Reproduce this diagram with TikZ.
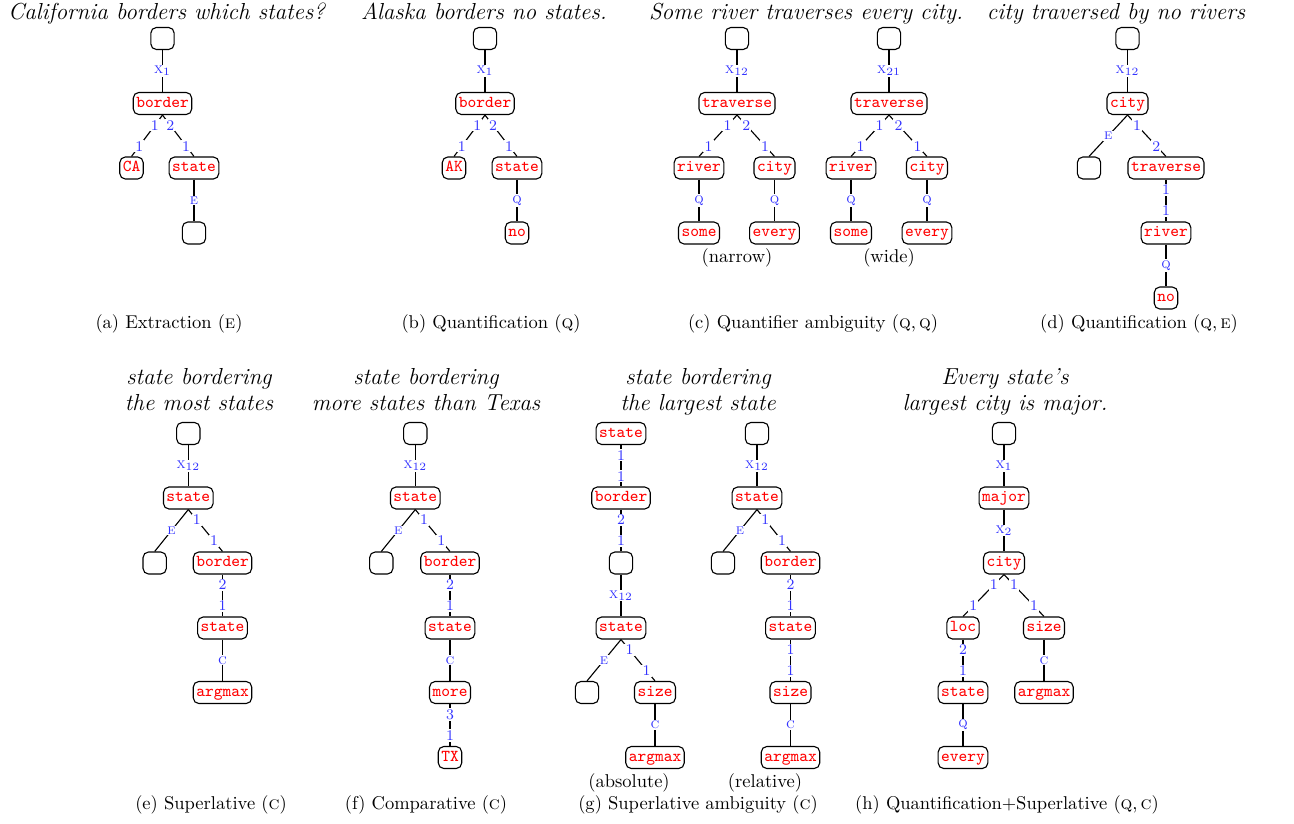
\documentclass[tikz,border=0pt]{standalone}
\usepackage{tikz}
\newcommand{\varx}[1]{\textsc{x}$_{#1}$}

\begin{document}
\begin{tikzpicture}[x=0.54pt,y=-0.54pt,
  pred/.style={draw,line width=.6pt,rounded corners=3pt,font=\small\ttfamily,
    text=red,inner sep=1.6pt,minimum width=12.6pt,minimum height=11.9pt,
    text height=6pt,text depth=1.8pt},
  lab/.style={font=\footnotesize,text=blue!80,fill=white,inner sep=.6pt},
  link/.style={line width=.6pt},
  question/.style={font=\fontsize{12.5}{14}\selectfont\itshape,align=center,inner sep=0pt}]
\useasboundingbox (0,0) rectangle (1294,824);

% (a)
\node[question,anchor=base] (a-q) at (166.5,20) {California borders which states?};
\node[pred] (a-top) at (162.5,38.5) {};
\node[pred] (a-border) at (162.5,103.5) {border};
\node[pred] (a-ca) at (131.5,168) {CA};
\node[pred] (a-state) at (194,168) {state};
\node[pred] (a-ext) at (194,233) {};
\path[link] (a-top) edge node[lab]{\varx{1}} (a-border);
\path[link] (a-border.south) edge node[lab,near start]{1} node[lab,near end]{1} (a-ca.north);
\path[link] (a-border.south) edge node[lab,near start]{2} node[lab,near end]{1} (a-state.north);
\path[link] (a-state) edge node[lab]{\textsc{e}} (a-ext);
\node (a-cap) at (169,324) {(a) Extraction (\textsc{e})};

% (b)
\node[question,anchor=base] (b-q) at (484,20) {Alaska borders no states.};
\node[pred] (b-top) at (485,38.5) {};
\node[pred] (b-border) at (485,103.5) {border};
\node[pred] (b-ak) at (454,168) {AK};
\node[pred] (b-state) at (517,168) {state};
\node[pred] (b-no) at (517,233) {no};
\path[link] (b-top) edge node[lab]{\varx{1}} (b-border);
\path[link] (b-border.south) edge node[lab,near start]{1} node[lab,near end]{1} (b-ak.north);
\path[link] (b-border.south) edge node[lab,near start]{2} node[lab,near end]{1} (b-state.north);
\path[link] (b-state) edge node[lab]{\textsc{q}} (b-no);
\node (b-cap) at (491,324) {(b) Quantification (\textsc{q})};

% (c) narrow and wide
\node[question,anchor=base] (c-q) at (806,20) {Some river traverses every city.};
\node[pred] (c-top) at (737,38.5) {};
\node[pred] (c-trav) at (737,103.5) {traverse};
\node[pred] (c-river) at (699,168) {river};
\node[pred] (c-city) at (774.5,168) {city};
\node[pred] (c-some) at (699,233) {some};
\node[pred] (c-every) at (774.5,233) {every};
\path[link] (c-top) edge node[lab]{\varx{12}} (c-trav);
\path[link] (c-trav.south) edge node[lab,near start]{1} node[lab,near end]{1} (c-river.north);
\path[link] (c-trav.south) edge node[lab,near start]{2} node[lab,near end]{1} (c-city.north);
\path[link] (c-river) edge node[lab]{\textsc{q}} (c-some);
\path[link] (c-city) edge node[lab]{\textsc{q}} (c-every);
\node (c-narrow) at (737,258) {(narrow)};
\node[pred] (c-topw) at (889,38.5) {};
\node[pred] (c-travw) at (889,103.5) {traverse};
\node[pred] (c-riverw) at (851,168) {river};
\node[pred] (c-cityw) at (927,168) {city};
\node[pred] (c-somew) at (851,233) {some};
\node[pred] (c-everyw) at (927,233) {every};
\path[link] (c-topw) edge node[lab]{\varx{21}} (c-travw);
\path[link] (c-travw.south) edge node[lab,near start]{1} node[lab,near end]{1} (c-riverw.north);
\path[link] (c-travw.south) edge node[lab,near start]{2} node[lab,near end]{1} (c-cityw.north);
\path[link] (c-riverw) edge node[lab]{\textsc{q}} (c-somew);
\path[link] (c-cityw) edge node[lab]{\textsc{q}} (c-everyw);
\node (c-wide) at (889,258) {(wide)};
\node (c-cap) at (813,324) {(c) Quantifier ambiguity (\textsc{q},\,\textsc{q})};

% (d)
\node[question,anchor=base] (d-q) at (1116,20) {city traversed by no rivers};
\node[pred] (d-top) at (1127.5,38.5) {};
\node[pred] (d-city) at (1127.5,103.5) {city};
\node[pred] (d-ext) at (1089,168) {};
\node[pred] (d-trav) at (1166,168) {traverse};
\node[pred] (d-river) at (1166,233) {river};
\node[pred] (d-no) at (1166,298) {no};
\path[link] (d-top) edge node[lab]{\varx{12}} (d-city);
\path[link] (d-city.south) edge node[lab]{\textsc{e}} (d-ext.north);
\path[link] (d-city.south) edge node[lab,near start]{1} node[lab,near end]{2} (d-trav.north);
\path[link] (d-trav) edge node[lab,near start]{1} node[lab,near end]{1} (d-river);
\path[link] (d-river) edge node[lab]{\textsc{q}} (d-no);
\node (d-cap) at (1139,324) {(d) Quantification (\textsc{q},\,\textsc{e})};

% (e)
\node[question,anchor=north] (e-q) at (199,368) {state bordering\\the most states};
\node[pred] (e-top) at (188.3,433.5) {};
\node[pred] (e-state) at (188.3,498) {state};
\node[pred] (e-ext) at (154.7,563) {};
\node[pred] (e-border) at (222.5,563) {border};
\node[pred] (e-state2) at (222.5,628) {state};
\node[pred] (e-argmax) at (222.5,692.5) {argmax};
\path[link] (e-top) edge node[lab]{\varx{12}} (e-state);
\path[link] (e-state.south) edge node[lab]{\textsc{e}} (e-ext.north);
\path[link] (e-state.south) edge node[lab,near start]{1} node[lab,near end]{1} (e-border.north);
\path[link] (e-border) edge node[lab,near start]{2} node[lab,near end]{1} (e-state2);
\path[link] (e-state2) edge node[lab]{\textsc{c}} (e-argmax);
\node (e-cap) at (211,805) {(e) Superlative (\textsc{c})};

% (f)
\node[question,anchor=north] (f-q) at (426,368) {state bordering\\more states than Texas};
\node[pred] (f-top) at (415.3,433.5) {};
\node[pred] (f-state) at (415.3,498) {state};
\node[pred] (f-ext) at (381.3,563) {};
\node[pred] (f-border) at (450,563) {border};
\node[pred] (f-state2) at (450,628) {state};
\node[pred] (f-more) at (450,692.5) {more};
\node[pred] (f-tx) at (450,757.5) {TX};
\path[link] (f-top) edge node[lab]{\varx{12}} (f-state);
\path[link] (f-state.south) edge node[lab]{\textsc{e}} (f-ext.north);
\path[link] (f-state.south) edge node[lab,near start]{1} node[lab,near end]{1} (f-border.north);
\path[link] (f-border) edge node[lab,near start]{2} node[lab,near end]{1} (f-state2);
\path[link] (f-state2) edge node[lab]{\textsc{c}} (f-more);
\path[link] (f-more) edge node[lab,near start]{3} node[lab,near end]{1} (f-tx);
\node (f-cap) at (426,805) {(f) Comparative (\textsc{c})};

% (g) absolute and relative
\node[question,anchor=north] (g-q) at (698,368) {state bordering\\the largest state};
\node[pred] (g-state) at (621,433.5) {state};
\node[pred] (g-border) at (621,498) {border};
\node[pred] (g-mid) at (621,563) {};
\node[pred] (g-state2) at (621,628) {state};
\node[pred] (g-ext) at (587,692.5) {};
\node[pred] (g-size) at (655,692.5) {size};
\node[pred] (g-argmax) at (655,757.5) {argmax};
\path[link] (g-state) edge node[lab,near start]{1} node[lab,near end]{1} (g-border);
\path[link] (g-border) edge node[lab,near start]{2} node[lab,near end]{1} (g-mid);
\path[link] (g-mid) edge node[lab]{\varx{12}} (g-state2);
\path[link] (g-state2.south) edge node[lab]{\textsc{e}} (g-ext.north);
\path[link] (g-state2.south) edge node[lab,near start]{1} node[lab,near end]{1} (g-size.north);
\path[link] (g-size) edge node[lab]{\textsc{c}} (g-argmax);
\node (g-abs) at (629,783) {(absolute)};
\node[pred] (g-topr) at (757,433.5) {};
\node[pred] (g-stater) at (757,498) {state};
\node[pred] (g-extr) at (723,563) {};
\node[pred] (g-borderr) at (790.5,563) {border};
\node[pred] (g-state2r) at (790.5,628) {state};
\node[pred] (g-sizer) at (790.5,692.5) {size};
\node[pred] (g-argmaxr) at (790.5,757.5) {argmax};
\path[link] (g-topr) edge node[lab]{\varx{12}} (g-stater);
\path[link] (g-stater.south) edge node[lab]{\textsc{e}} (g-extr.north);
\path[link] (g-stater.south) edge node[lab,near start]{1} node[lab,near end]{1} (g-borderr.north);
\path[link] (g-borderr) edge node[lab,near start]{2} node[lab,near end]{1} (g-state2r);
\path[link] (g-state2r) edge node[lab,near start]{1} node[lab,near end]{1} (g-sizer);
\path[link] (g-sizer) edge node[lab]{\textsc{c}} (g-argmaxr);
\node (g-rel) at (765,783) {(relative)};
\node (g-cap) at (698,805) {(g) Superlative ambiguity (\textsc{c})};

% (h)
\node[question,anchor=north] (h-q) at (1005,368) {Every state's\\largest city is major.};
\node[pred] (h-top) at (1004,433.5) {};
\node[pred] (h-major) at (1004,498) {major};
\node[pred] (h-city) at (1004,563) {city};
\node[pred] (h-loc) at (963,628) {loc};
\node[pred] (h-size) at (1044,628) {size};
\node[pred] (h-state) at (963,692.5) {state};
\node[pred] (h-argmax) at (1044,692.5) {argmax};
\node[pred] (h-every) at (963,757.5) {every};
\path[link] (h-top) edge node[lab]{\varx{1}} (h-major);
\path[link] (h-major) edge node[lab]{\varx{2}} (h-city);
\path[link] (h-city.south) edge node[lab,near start]{1} node[lab,near end]{1} (h-loc.north);
\path[link] (h-city.south) edge node[lab,near start]{1} node[lab,near end]{1} (h-size.north);
\path[link] (h-loc) edge node[lab,near start]{2} node[lab,near end]{1} (h-state);
\path[link] (h-state) edge node[lab]{\textsc{q}} (h-every);
\path[link] (h-size) edge node[lab]{\textsc{c}} (h-argmax);
\node (h-cap) at (1007,805) {(h) Quantification+Superlative (\textsc{q},\,\textsc{c})};
\end{tikzpicture}
\end{document}
